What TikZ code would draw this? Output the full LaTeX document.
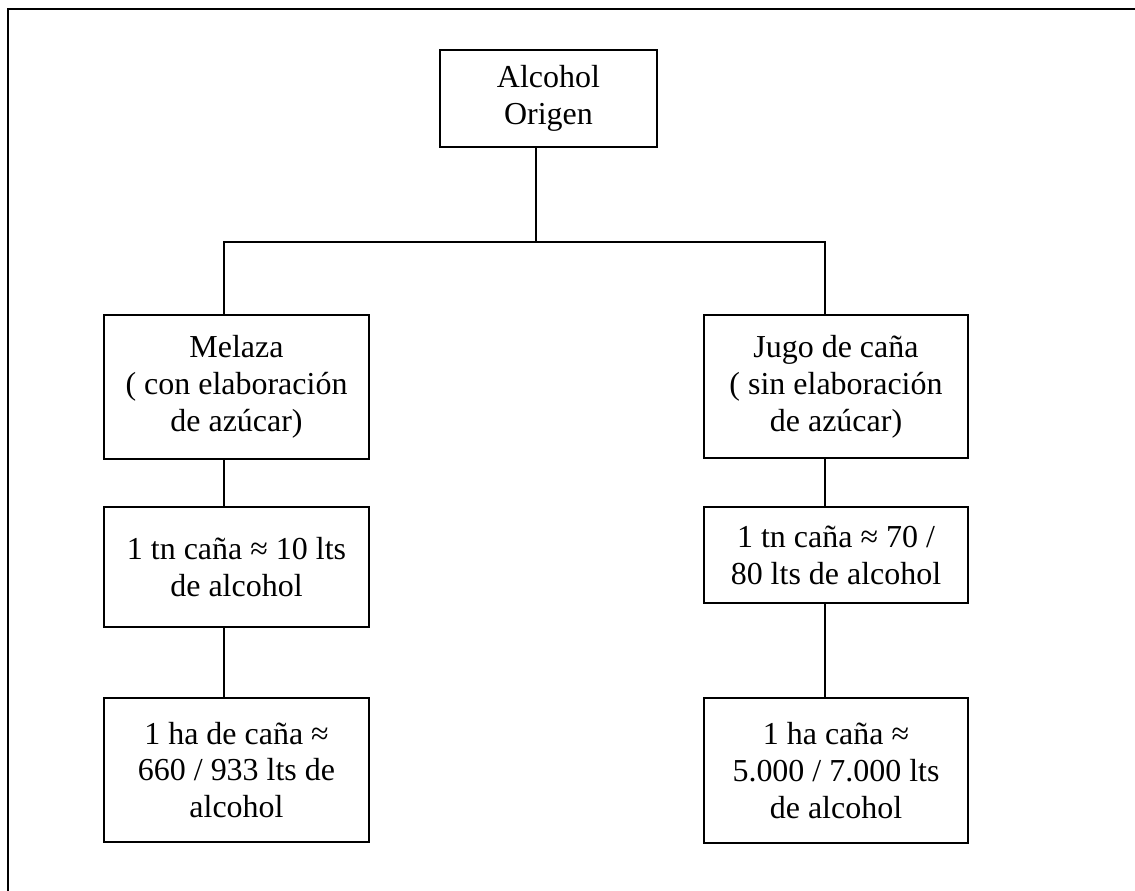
\documentclass[tikz,border=0pt]{standalone}
\usepackage{fontspec}
\setmainfont{Liberation Serif}
\tikzset{
  caja/.style={draw, line width=0.8pt, align=center, inner sep=2pt,
    font=\fontsize{18.2}{21}\selectfont},
  enlace/.style={line width=0.8pt}
}
\begin{document}
\begin{tikzpicture}[x=0.02cm, y=-0.02cm]
\useasboundingbox (0,0) rectangle (1135,891);
\draw[line width=1.2pt] (8,891) -- (8,9) -- (1135,9);

\node[caja, minimum width=4.34cm, minimum height=1.94cm] (origen) at (548.5,98.5) {Alcohol\\Origen};

\node[caja, minimum width=5.3cm, minimum height=2.88cm] (melaza) at (236.5,387) {Melaza\\( con elaboración\\de azúcar)};
\node[caja, minimum width=5.3cm, minimum height=2.4cm] (tnmelaza) at (236.5,567) {1 tn caña ≈ 10 lts\\de alcohol};
\node[caja, minimum width=5.3cm, minimum height=2.88cm] (hamelaza) at (236.5,770) {1 ha de caña ≈\\660 / 933 lts de\\alcohol};

\node[caja, minimum width=5.28cm, minimum height=2.86cm] (jugo) at (836,386.5) {Jugo de caña\\( sin elaboración\\de azúcar)};
\node[caja, minimum width=5.28cm, minimum height=1.92cm] (tnjugo) at (836,555) {1 tn caña ≈ 70 /\\80 lts de alcohol};
\node[caja, minimum width=5.28cm, minimum height=2.9cm] (hajugo) at (836,770.5) {1 ha caña ≈\\5.000 / 7.000 lts\\de alcohol};

\coordinate (fork) at (536,242);
\coordinate (barizq) at (224,242);
\coordinate (barder) at (825,242);

\draw[enlace] (origen.south -| fork) -- (fork);
\draw[enlace] (melaza.north -| barizq) -- (barizq) -- (barder) -- (jugo.north -| barder);
\draw[enlace] (melaza.south -| barizq) -- (tnmelaza.north -| barizq);
\draw[enlace] (tnmelaza.south -| barizq) -- (hamelaza.north -| barizq);
\draw[enlace] (jugo.south -| barder) -- (tnjugo.north -| barder);
\draw[enlace] (tnjugo.south -| barder) -- (hajugo.north -| barder);

\end{tikzpicture}
\end{document}
